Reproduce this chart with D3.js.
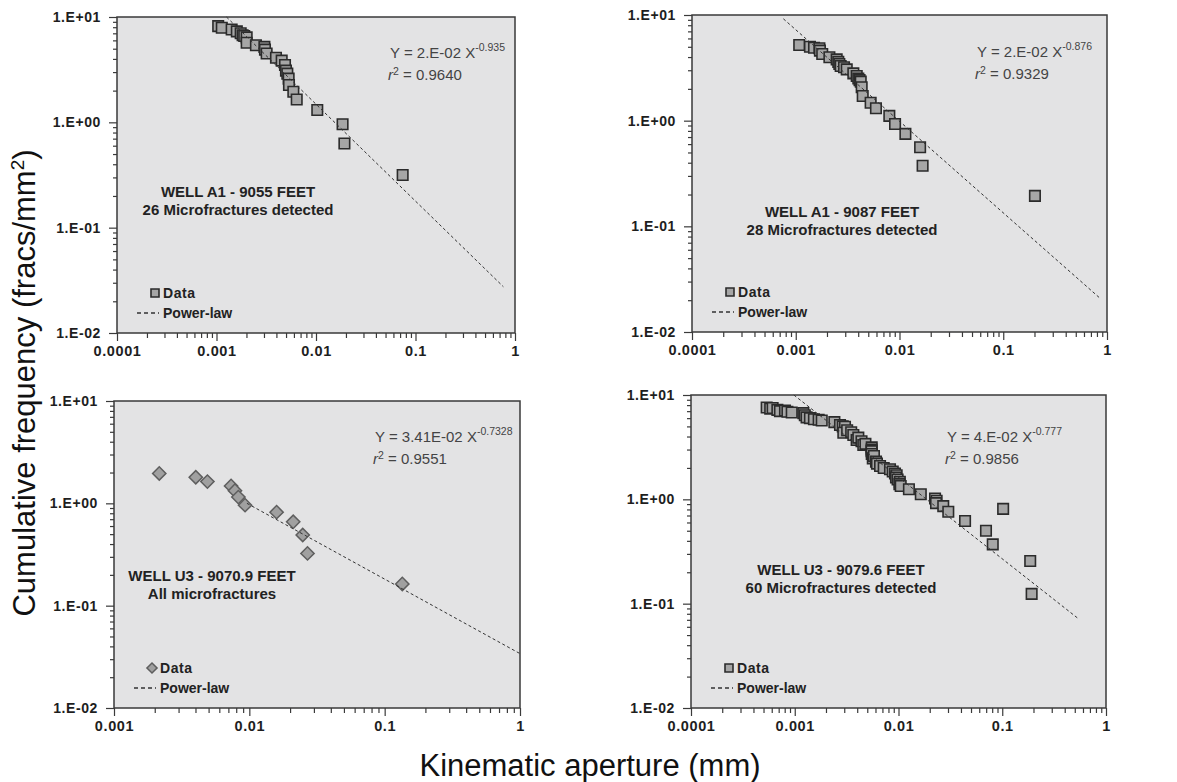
<!DOCTYPE html>
<html>
<head>
<meta charset="utf-8">
<script src="https://cdn.jsdelivr.net/npm/d3@7"></script>
<style>
  body { margin: 0; background: #fff; }
  svg { display: block; }
  text { font-family: "Liberation Sans", Arial, sans-serif; }
</style>
</head>
<body>
<div id="chart"></div>
<script>

// --- data: [aperture (mm), cumulative frequency] ---
var a1_9055 = [
  [0.00104, 8.2], [0.00113, 7.9], [0.00142, 7.6], [0.00160, 7.3], [0.00175, 7.0],
  [0.00183, 6.7], [0.0019, 6.6], [0.00201, 6.4], [0.00201, 5.7], [0.00249, 5.4],
  [0.00303, 5.2], [0.00307, 4.9], [0.00319, 4.5], [0.00396, 4.1], [0.00452, 3.85],
  [0.00488, 3.5], [0.00499, 3.1], [0.00515, 2.9], [0.00531, 2.6], [0.00535, 2.26],
  [0.00592, 1.95], [0.0064, 1.65], [0.0103, 1.31], [0.0185, 0.96], [0.0193, 0.63],
  [0.0743, 0.316]
];

var a1_9087 = [
  [0.00108, 5.2], [0.00137, 5.0], [0.0015, 4.9], [0.00169, 4.84], [0.00171, 4.6],
  [0.0018, 4.28], [0.00211, 3.98], [0.00248, 3.8], [0.00257, 3.6], [0.00263, 3.44],
  [0.00271, 3.29], [0.00292, 3.2], [0.0031, 3.06], [0.00359, 2.8], [0.00387, 2.65],
  [0.00401, 2.51], [0.00412, 2.42], [0.00423, 2.34], [0.00432, 2.07], [0.00442, 1.71],
  [0.00527, 1.48], [0.00593, 1.31], [0.00798, 1.11], [0.00906, 0.93], [0.0114, 0.75],
  [0.0158, 0.56], [0.0167, 0.375], [0.202, 0.194]
];

var u3_9070 = [
  [0.00216, 1.96], [0.00402, 1.8], [0.0049, 1.63], [0.00733, 1.48], [0.00783, 1.33],
  [0.0083, 1.15], [0.0093, 0.96], [0.0159, 0.82], [0.0211, 0.66], [0.0248, 0.49],
  [0.0269, 0.324], [0.135, 0.163]
];

var u3_9079 = [
  [0.000536, 7.6], [0.00058, 7.4], [0.000612, 7.5], [0.00068, 7.2], [0.00072, 7.0],
  [0.000805, 7.1], [0.00085, 6.9], [0.000935, 6.8], [0.00121, 6.7], [0.00125, 6.4],
  [0.0013, 6.1], [0.0014, 6.0], [0.00153, 5.85], [0.0017, 5.8], [0.00182, 5.7],
  [0.00241, 5.5], [0.00273, 5.15], [0.0029, 5.0], [0.00305, 4.97], [0.00294, 4.35],
  [0.0032, 4.6], [0.0035, 4.4], [0.00367, 4.13], [0.00395, 3.7], [0.0041, 3.9],
  [0.0044, 3.6], [0.00458, 3.32], [0.0048, 3.4], [0.00552, 3.15], [0.0055, 3.0],
  [0.0055, 2.9], [0.00552, 2.72], [0.00565, 2.47], [0.0058, 2.6], [0.00607, 2.3],
  [0.0062, 2.2], [0.00664, 2.09], [0.0072, 2.0], [0.00828, 1.94], [0.0088, 1.85],
  [0.00925, 1.77], [0.0096, 1.7], [0.00946, 1.62], [0.0098, 1.55], [0.0103, 1.47],
  [0.0102, 1.40], [0.0105, 1.34], [0.0126, 1.25], [0.0164, 1.12], [0.0225, 1.02],
  [0.0233, 0.97], [0.023, 0.92], [0.027, 0.86], [0.0302, 0.76], [0.0438, 0.62],
  [0.0697, 0.50], [0.081, 0.37], [0.102, 0.81], [0.186, 0.256], [0.192, 0.124]
];

// power-law fit lines, end points
var fitA1_9055 = [[0.00126, 10], [0.764, 0.0275]];
var fitA1_9087 = [[0.00076, 9.2], [0.86, 0.0208]];
var fitU3_9070 = [[0.0096, 1.0], [1, 0.034]];
var fitU3_9079 = [[0.00098, 10], [0.54, 0.072]];

// texts
var wellNames = ['WELL A1 - 9055 FEET', 'WELL A1 - 9087 FEET', 'WELL U3 - 9070.9 FEET', 'WELL U3 - 9079.6 FEET'];
var wellNotes = ['26 Microfractures detected', '28 Microfractures detected', 'All microfractures', '60 Microfractures detected'];
var eqCoef = ['2.E-02', '2.E-02', '3.41E-02', '4.E-02'];
var eqExp = ['-0.935', '-0.876', '-0.7328', '-0.777'];
var eqR2 = ['0.9640', '0.9329', '0.9551', '0.9856'];

// ticks
var yTickValues = [10, 1, 0.1, 0.01];
var yTickText = ['1.E+01', '1.E+00', '1.E-01', '1.E-02'];
var xTickValues = [0.0001, 0.001, 0.01, 0.1, 1];
var xTickText = ['0.0001', '0.001', '0.01', '0.1', '1'];

// panel layout
var panels = [
  { data: a1_9055, fit: fitA1_9055, marker: 'square', xMin: 0.0001,
    left: 117, top: 17, right: 515, bottom: 333,
    eqX: 273, eqY: 41, labelX: 121, labelY: 180 },
  { data: a1_9087, fit: fitA1_9087, marker: 'square', xMin: 0.0001,
    left: 692, top: 15, right: 1107, bottom: 332,
    eqX: 285, eqY: 42, labelX: 150, labelY: 202 },
  { data: u3_9070, fit: fitU3_9070, marker: 'diamond', xMin: 0.001,
    left: 114, top: 401, right: 520, bottom: 708,
    eqX: 261, eqY: 41, labelX: 98, labelY: 180 },
  { data: u3_9079, fit: fitU3_9079, marker: 'square', xMin: 0.0001,
    left: 691, top: 395, right: 1106, bottom: 708,
    eqX: 256, eqY: 47, labelX: 150, labelY: 180 }
];

var W = 1177, H = 782;

var svg = d3.select('#chart')
  .append('svg')
    .attr('width', W)
    .attr('height', H);

function isDecade(v) {
  var l = Math.log10(v);
  return Math.abs(l - Math.round(l)) < 1e-6;
}

function drawMarker(sel, type, size) {
  if (type === 'diamond') {
    sel.append('path')
        .attr('d', d3.symbol(d3.symbolSquare, size * size * 0.8)())
        .attr('transform', 'rotate(45)')
        .attr('fill', '#a0a0a0')
        .attr('stroke', '#5e5e5e')
        .attr('stroke-width', 1.5);
  } else {
    sel.append('path')
        .attr('d', d3.symbol(d3.symbolSquare, size * size)())
        .attr('fill', '#a6a6a6')
        .attr('stroke', '#2b2b2b')
        .attr('stroke-width', 1.6);
  }
}

panels.forEach(function (p, i) {

  var x = d3.scaleLog().domain([p.xMin, 1]).range([p.left, p.right]);
  var y = d3.scaleLog().domain([0.01, 10]).range([p.bottom, p.top]);

  var g = svg.append('g');

  g.append('rect')
      .attr('x', p.left)
      .attr('y', p.top)
      .attr('width', p.right - p.left)
      .attr('height', p.bottom - p.top)
      .attr('fill', '#e3e3e4');

  // minor ticks
  var minorX = x.ticks().filter(function (v) { return !isDecade(v); });
  var minorY = y.ticks().filter(function (v) { return !isDecade(v); });

  var xMinor = g.append('g')
      .attr('transform', 'translate(0,' + p.bottom + ')')
      .call(d3.axisBottom(x).tickValues(minorX).tickSize(5).tickSizeOuter(0).tickFormat(''));

  var yMinor = g.append('g')
      .attr('transform', 'translate(' + p.left + ',0)')
      .call(d3.axisLeft(y).tickValues(minorY).tickSize(4).tickSizeOuter(0).tickFormat(''));

  // major ticks with labels
  var xMajor = g.append('g')
      .attr('transform', 'translate(0,' + p.bottom + ')')
      .call(d3.axisBottom(x)
        .tickValues(xTickValues.filter(function (v) { return v >= p.xMin; }))
        .tickSize(8).tickSizeOuter(0).tickPadding(5)
        .tickFormat(function (d) { return xTickText[xTickValues.indexOf(d)]; }));

  var yMajor = g.append('g')
      .attr('transform', 'translate(' + p.left + ',0)')
      .call(d3.axisLeft(y)
        .tickValues(yTickValues)
        .tickSize(8).tickSizeOuter(0).tickPadding(8)
        .tickFormat(function (d, k) { return yTickText[k]; }));

  [xMinor, yMinor, xMajor, yMajor].forEach(function (a) {
    a.select('.domain').remove();
    a.selectAll('.tick line').attr('stroke', '#3a3a3a').attr('stroke-width', 1.2);
    a.selectAll('.tick text')
        .attr('fill', '#1e1e1e')
        .style('font-family', '"Liberation Sans", Arial, sans-serif')
        .style('font-weight', 'bold')
        .style('letter-spacing', '0.6px');
  });
  xMajor.selectAll('.tick text').style('font-size', '14.5px');
  yMajor.selectAll('.tick text').style('font-size', '14px');

  // frame
  g.append('rect')
      .attr('x', p.left)
      .attr('y', p.top)
      .attr('width', p.right - p.left)
      .attr('height', p.bottom - p.top)
      .attr('fill', 'none')
      .attr('stroke', '#3a3a3a')
      .attr('stroke-width', 1.5);

  // data points
  var pts = g.append('g')
    .selectAll('g')
      .data(p.data)
      .enter()
    .append('g')
      .attr('transform', function (d) { return 'translate(' + x(d[0]) + ',' + y(d[1]) + ')'; });

  drawMarker(pts, p.marker, 10.5);

  // power-law fit
  var line = d3.line()
      .x(function (d) { return x(d[0]); })
      .y(function (d) { return y(d[1]); });

  g.append('path')
      .datum(p.fit)
      .attr('d', line)
      .attr('fill', 'none')
      .attr('stroke', '#333')
      .attr('stroke-width', 1)
      .attr('stroke-dasharray', '3,2.5');

  // equation
  var eq = g.append('text')
      .attr('x', p.left + p.eqX)
      .attr('y', p.top + p.eqY)
      .attr('fill', '#444')
      .style('font-size', '15px');
  eq.append('tspan').text('Y = ' + eqCoef[i] + ' X');
  eq.append('tspan').attr('dy', -7).style('font-size', '10.5px').text(eqExp[i]);

  var r2 = g.append('text')
      .attr('x', p.left + p.eqX - 2)
      .attr('y', p.top + p.eqY + 22)
      .attr('fill', '#444')
      .style('font-size', '15px');
  r2.append('tspan').style('font-style', 'italic').text('r');
  r2.append('tspan').attr('dy', -5).style('font-size', '10.5px').text('2');
  r2.append('tspan').attr('dy', 5).text(' = ' + eqR2[i]);

  // well label
  var lab = g.append('text')
      .attr('text-anchor', 'middle')
      .attr('fill', '#222')
      .style('font-weight', 'bold')
      .style('font-size', '15px');
  lab.append('tspan')
      .attr('x', p.left + p.labelX)
      .attr('y', p.top + p.labelY)
      .text(wellNames[i]);
  lab.append('tspan')
      .attr('x', p.left + p.labelX)
      .attr('y', p.top + p.labelY + 18)
      .text(wellNotes[i]);

  // legend
  var lg = g.append('g')
      .attr('transform', 'translate(' + p.left + ',' + p.bottom + ')');

  var sym = lg.append('g')
      .attr('transform', 'translate(38,-40)');
  drawMarker(sym, p.marker, 8);

  lg.append('text')
      .attr('x', 46)
      .attr('y', -35)
      .attr('fill', '#222')
      .style('font-weight', 'bold')
      .style('font-size', '14px')
      .style('letter-spacing', '0.6px')
      .text('Data');

  lg.append('line')
      .attr('x1', 20)
      .attr('x2', 42)
      .attr('y1', -20)
      .attr('y2', -20)
      .attr('stroke', '#333')
      .attr('stroke-width', 1.3)
      .attr('stroke-dasharray', '4,3');

  lg.append('text')
      .attr('x', 46)
      .attr('y', -15)
      .attr('fill', '#222')
      .style('font-weight', 'bold')
      .style('font-size', '14px')
      .text('Power-law');
});

// shared axis titles
var yTitle = svg.append('text')
    .attr('transform', 'translate(35,383) rotate(-90)')
    .attr('text-anchor', 'middle')
    .attr('fill', '#111')
    .style('font-size', '31px');
yTitle.append('tspan').text('Cumulative frequency (fracs/mm');
yTitle.append('tspan').attr('dy', -11).style('font-size', '19px').text('2');
yTitle.append('tspan').attr('dy', 11).text(')');

svg.append('text')
    .attr('x', 590)
    .attr('y', 776)
    .attr('text-anchor', 'middle')
    .attr('fill', '#111')
    .style('font-size', '31px')
    .text('Kinematic aperture (mm)');

</script>
</body>
</html>
